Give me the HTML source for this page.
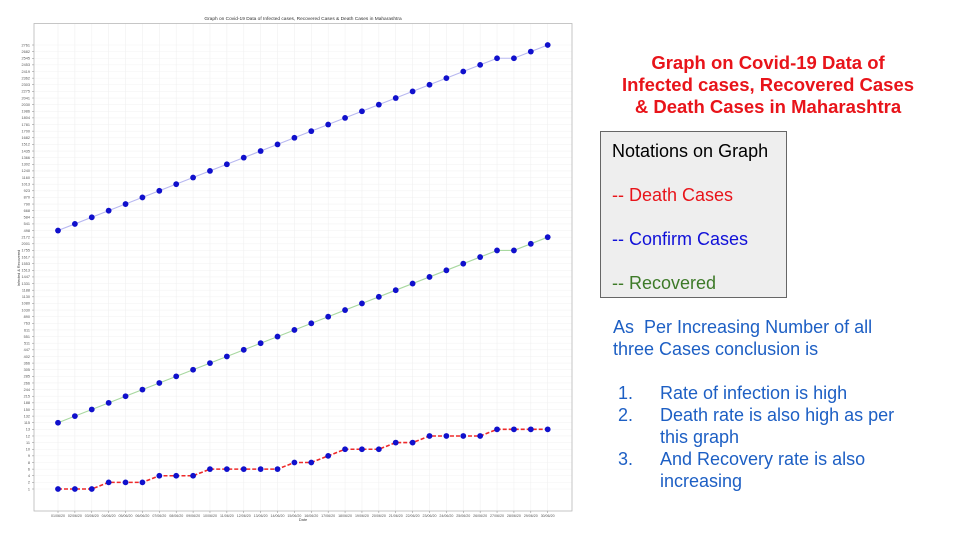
<!DOCTYPE html>
<html><head><meta charset="utf-8"><style>
body{margin:0;background:#fff;width:960px;height:540px;overflow:hidden;font-family:"Liberation Sans",Arial,sans-serif;}
.t{position:absolute;white-space:nowrap;}
</style></head><body>
<svg id="chart" width="960" height="540" style="position:absolute;left:0;top:0" font-family="Liberation Sans, Arial, sans-serif"></svg>

<div class="t" style="left:590px;top:52px;width:356px;text-align:center;color:#e8141a;font-weight:bold;font-size:18.5px;line-height:22px;">Graph on Covid-19 Data of<br>Infected cases, Recovered Cases<br>&amp; Death Cases in Maharashtra</div>

<div style="position:absolute;left:600px;top:131px;width:185px;height:165px;background:#eeeeee;border:1.5px solid #666;"></div>
<div class="t" style="left:612px;top:141px;font-size:18px;color:#000;">Notations on Graph</div>
<div class="t" style="left:612px;top:185px;font-size:18px;color:#e8141a;">-- Death Cases</div>
<div class="t" style="left:612px;top:229px;font-size:18px;color:#1010d8;">-- Confirm Cases</div>
<div class="t" style="left:612px;top:273px;font-size:18px;color:#3d7a28;">-- Recovered</div>

<div style="position:absolute;left:613px;top:316px;font-size:18px;line-height:22px;color:#1d5fc4;">
<div>As&nbsp; Per Increasing Number of all<br>three Cases conclusion is</div>
<div style="height:22px"></div>
<div style="position:relative;padding-left:47px;"><span style="position:absolute;left:5px">1.</span>Rate of infection is high</div>
<div style="position:relative;padding-left:47px;"><span style="position:absolute;left:5px">2.</span>Death rate is also high as per<br>this graph</div>
<div style="position:relative;padding-left:47px;"><span style="position:absolute;left:5px">3.</span>And Recovery rate is also<br>increasing</div>
</div>

<script>
const dates = ["01/06/20","02/06/20","03/06/20","04/06/20","05/06/20","06/06/20","07/06/20","08/06/20","09/06/20","10/06/20","11/06/20","12/06/20","13/06/20","14/06/20","15/06/20","16/06/20","17/06/20","18/06/20","19/06/20","20/06/20","21/06/20","22/06/20","23/06/20","24/06/20","25/06/20","26/06/20","27/06/20","28/06/20","29/06/20","30/06/20"];
const deaths = [1,1,1,2,2,2,4,4,4,6,6,6,6,6,8,8,9,10,10,10,11,11,12,12,12,12,13,13,13,13];
const recovered = [115,132,150,188,215,244,266,285,305,366,402,447,511,551,611,763,890,1030,1080,1130,1188,1331,1447,1513,1553,1617,1755,1755,2001,2172];
const confirmed = [498,541,584,668,790,870,923,1013,1160,1240,1302,1366,1435,1512,1682,1700,1781,1804,1986,2030,2041,2275,2303,2362,2419,2453,2545,2545,2682,2761];

const NS="http://www.w3.org/2000/svg";
const svg=document.getElementById('chart');
function mk(tag,attrs,parent){const e=document.createElementNS(NS,tag);for(const k in attrs)e.setAttribute(k,attrs[k]);(parent||svg).appendChild(e);return e;}

const cats=[];
[deaths,recovered,confirmed].forEach(s=>s.forEach(v=>{if(!cats.includes(v))cats.push(v);}));
const L=34,R=572,T=23.5,B=511;
const yBottom=489, yTop=45;
const yStep=cats.length>1?(yBottom-yTop)/(cats.length-1):0;
function y(v){return yBottom-cats.indexOf(v)*yStep;}
const xFirst=58, xLast=547.7;
const xStep=(xLast-xFirst)/(dates.length-1);
function x(i){return xFirst+i*xStep;}

cats.forEach(c=>{const g=mk('line',{x1:L,x2:R,y1:y(c),y2:y(c),stroke:'#f3f3f3','stroke-width':0.6});
});
dates.forEach((d,i)=>{const g=mk('line',{x1:x(i),x2:x(i),y1:T,y2:B,stroke:'#f0f0f0','stroke-width':0.6});
});

const fr=mk('rect',{x:L,y:T,width:R-L,height:B-T,fill:'none',stroke:'#b8b8b8','stroke-width':0.8});


cats.forEach(c=>{mk('line',{x1:L-2,x2:L,y1:y(c),y2:y(c),stroke:'#888','stroke-width':0.5});
const t=mk('text',{x:L-4,y:y(c)+1.3,'font-size':3.8,fill:'#555','text-anchor':'end'});t.textContent=c;
});
dates.forEach((d,i)=>{mk('line',{x1:x(i),x2:x(i),y1:B,y2:B+2,stroke:'#888','stroke-width':0.5});
const t=mk('text',{x:x(i),y:B+6,'font-size':3.6,fill:'#555','text-anchor':'middle'});t.textContent=d;
});

const tt=mk('text',{x:303,y:20,'font-size':4.8,fill:'#333','text-anchor':'middle'});
tt.textContent='Graph on Covid-19 Data of Infected cases, Recovered Cases & Death Cases in Maharashtra';

const xl=mk('text',{x:303,y:521,'font-size':4,fill:'#444','text-anchor':'middle'});xl.textContent='Date';

const yl=mk('text',{x:0,y:0,'font-size':3.8,fill:'#444','text-anchor':'middle',transform:'translate(20,268) rotate(-90)'});
yl.textContent='Infected & Recovered';


function series(data,color,width,dash,name){
  const pts=data.map((v,i)=>x(i).toFixed(2)+','+y(v).toFixed(2)).join(' ');
  const pl=mk('polyline',{points:pts,fill:'none',stroke:color,'stroke-width':width,'stroke-dasharray':dash});
  
  data.forEach((v,i)=>{const c=mk('circle',{cx:x(i),cy:y(v),r:2.9,fill:'#1010cc'});
  });
}
series(deaths,'#ee2a2a',1.6,'4,2','deaths');
series(recovered,'#a8d8a0',1.1,'none','recovered');
series(confirmed,'#b8b8f0',1.1,'none','confirmed');
</script>
</body></html>
